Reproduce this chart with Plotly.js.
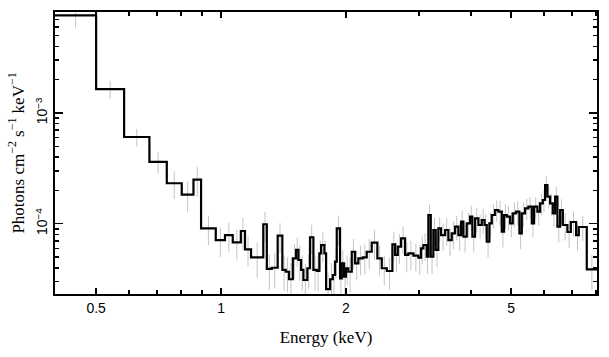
<!DOCTYPE html>
<html>
<head>
<meta charset="utf-8">
<script src="https://cdn.plot.ly/plotly-3.0.1.min.js"></script>
<style>html,body{margin:0;padding:0;background:#fff;}#chart{width:609px;height:357px;}</style>
</head>
<body>
<div id="chart"></div>
<script>
// Bin edges (keV) of the step spectrum
const binEdges = [0.398, 0.5, 0.584, 0.672, 0.740, 0.804, 0.858, 0.895, 0.971, 1.022,
  1.067, 1.116, 1.142, 1.181, 1.264, 1.289, 1.325, 1.369, 1.405, 1.432,
  1.458, 1.489, 1.516, 1.536, 1.559, 1.579, 1.614, 1.638, 1.669, 1.701,
  1.725, 1.742, 1.774, 1.791, 1.831, 1.859, 1.883, 1.900, 1.935, 1.953,
  1.978, 2.000, 2.026, 2.065, 2.103, 2.142, 2.195, 2.244, 2.307, 2.380,
  2.439, 2.508, 2.587, 2.626, 2.666, 2.715, 2.776, 2.827, 2.907, 2.988,
  3.033, 3.072, 3.130, 3.158, 3.201, 3.247, 3.290, 3.338, 3.389, 3.465,
  3.529, 3.596, 3.663, 3.731, 3.787, 3.836, 3.908, 3.981, 4.032, 4.093,
  4.169, 4.248, 4.314, 4.367, 4.431, 4.490, 4.573, 4.657, 4.746, 4.807,
  4.880, 4.970, 5.045, 5.138, 5.234, 5.304, 5.401, 5.502, 5.607, 5.678,
  5.783, 5.871, 5.960, 6.036, 6.114, 6.206, 6.300, 6.380, 6.463, 6.561,
  6.660, 6.832, 6.962, 7.169, 7.277, 7.606, 8.05];

// Flux per bin (photons cm^-2 s^-1 keV^-1)
const flux = [7.60e-3, 1.64e-3, 6.07e-4, 3.61e-4, 2.32e-4, 1.83e-4, 2.50e-4, 9.09e-5, 7.12e-5, 7.90e-5,
  6.79e-5, 8.59e-5, 5.87e-5, 4.97e-5, 9.88e-5, 3.90e-5, 4.00e-5, 7.79e-5, 3.82e-5, 3.68e-5,
  3.15e-5, 4.87e-5, 5.79e-5, 4.70e-5, 3.82e-5, 3.10e-5, 3.96e-5, 7.54e-5, 3.82e-5, 3.74e-5,
  5.40e-5, 6.42e-5, 5.40e-5, 2.56e-5, 3.15e-5, 3.44e-5, 4.54e-5, 9.09e-5, 3.21e-5, 4.39e-5,
  3.32e-5, 3.96e-5, 3.68e-5, 5.58e-5, 4.39e-5, 4.87e-5, 4.97e-5, 5.58e-5, 6.74e-5, 4.87e-5,
  3.96e-5, 3.74e-5, 6.52e-5, 5.22e-5, 6.20e-5, 7.38e-5, 5.22e-5, 5.40e-5, 5.14e-5, 4.93e-5,
  5.99e-5, 6.42e-5, 5.03e-5, 1.198e-4, 5.03e-5, 8.77e-5, 5.79e-5, 9.09e-5, 7.90e-5, 8.77e-5,
  7.12e-5, 8.19e-5, 9.39e-5, 7.90e-5, 1.043e-4, 7.63e-5, 1.008e-4, 1.157e-4, 7.63e-5, 1.119e-4,
  9.73e-5, 1.080e-4, 9.73e-5, 6.88e-5, 1.008e-4, 1.198e-4, 1.329e-4, 1.284e-4, 8.47e-5, 1.198e-4,
  1.157e-4, 1.008e-4, 1.241e-4, 1.284e-4, 8.19e-5, 1.241e-4, 1.377e-4, 1.424e-4, 1.008e-4, 1.424e-4,
  1.284e-4, 1.529e-4, 1.637e-4, 2.237e-4, 1.754e-4, 1.529e-4, 1.241e-4, 1.754e-4, 9.39e-5, 1.329e-4,
  9.73e-5, 8.41e-5, 1.036e-4, 7.90e-5, 9.34e-5, 3.87e-5];

// Relative 1-sigma error per bin
const relErr = [0.22, 0.18, 0.18, 0.22, 0.28, 0.30, 0.30, 0.30, 0.30, 0.30,
  0.30, 0.32, 0.30, 0.35, 0.30, 0.35, 0.35, 0.30, 0.35, 0.35,
  0.40, 0.35, 0.30, 0.35, 0.35, 0.40, 0.35, 0.30, 0.35, 0.35,
  0.30, 0.30, 0.30, 0.40, 0.40, 0.35, 0.30, 0.30, 0.35, 0.30,
  0.35, 0.30, 0.35, 0.30, 0.30, 0.30, 0.30, 0.30, 0.30, 0.30,
  0.30, 0.32, 0.30, 0.30, 0.30, 0.28, 0.30, 0.30, 0.28, 0.30,
  0.28, 0.28, 0.30, 0.25, 0.30, 0.28, 0.30, 0.25, 0.28, 0.28,
  0.28, 0.28, 0.25, 0.28, 0.25, 0.28, 0.25, 0.25, 0.28, 0.25,
  0.25, 0.25, 0.25, 0.28, 0.25, 0.25, 0.22, 0.25, 0.28, 0.25,
  0.25, 0.25, 0.25, 0.25, 0.28, 0.25, 0.22, 0.22, 0.25, 0.22,
  0.25, 0.22, 0.22, 0.20, 0.22, 0.22, 0.25, 0.22, 0.28, 0.25,
  0.28, 0.28, 0.25, 0.28, 0.25, 0.35];

const xTickVals = [0.5, 1, 2, 5];
const xTickText = ['0.5', '1', '2', '5'];
const xMinorVals = [0.4, 0.6, 0.7, 0.8, 0.9, 3, 4, 6, 7, 8];
const yTickVals = [1e-4, 1e-3];
const yTickText = ['10<sup>\u22124</sup>', '10<sup>\u22123</sup>'];
const yMinorVals = [3e-5, 4e-5, 5e-5, 6e-5, 7e-5, 8e-5, 9e-5,
  2e-4, 3e-4, 4e-4, 5e-4, 6e-4, 7e-4, 8e-4, 9e-4,
  2e-3, 3e-3, 4e-3, 5e-3, 6e-3, 7e-3, 8e-3];

// step line
const stepX = binEdges.slice();
const stepY = flux.concat([flux[flux.length - 1]]);

// error bars at bin centres
const centers = flux.map((v, i) => Math.sqrt(binEdges[i] * binEdges[i + 1]));
const errs = flux.map((v, i) => v * relErr[i]);

const traces = [
  {
    x: centers, y: flux, type: 'scatter', mode: 'markers',
    marker: {size: 1, color: 'rgba(0,0,0,0)'},
    error_y: {type: 'data', array: errs, visible: true, color: '#c4c4c4', thickness: 1, width: 0},
    hoverinfo: 'skip', showlegend: false
  },
  {
    x: stepX, y: stepY, type: 'scatter', mode: 'lines',
    line: {shape: 'hv', color: '#000', width: 2.2},
    showlegend: false
  }
];

const axisCommon = {
  showgrid: false, zeroline: false, showline: true, linecolor: '#000', linewidth: 2,
  mirror: 'ticks', ticks: 'inside', tickcolor: '#000', tickwidth: 1.5
};

const layout = {
  width: 609, height: 357,
  margin: {l: 55, r: 12, t: 12, b: 63},
  paper_bgcolor: '#fff', plot_bgcolor: '#fff',
  showlegend: false,
  xaxis: Object.assign({}, axisCommon, {
    type: 'log',
    range: [Math.log10(0.398), Math.log10(8.05)],
    tickmode: 'array', tickvals: xTickVals, ticktext: xTickText, ticklen: 6,
    tickfont: {family: 'Liberation Sans, Arial, sans-serif', size: 14, color: '#000'},
    minor: {tickmode: 'array', tickvals: xMinorVals, ticks: 'inside', ticklen: 4, tickcolor: '#000', tickwidth: 1.5, showgrid: false},
    title: {text: 'Energy (keV)', font: {family: 'Liberation Serif, Times New Roman, serif', size: 17, color: '#000'}, standoff: 16},
    automargin: false
  }),
  yaxis: Object.assign({}, axisCommon, {
    type: 'log',
    range: [-4.635, -2.088],
    tickmode: 'array', tickvals: yTickVals, ticktext: yTickText, ticklen: 8,
    tickangle: -90,
    tickfont: {family: 'Liberation Sans, Arial, sans-serif', size: 14, color: '#000'},
    minor: {tickmode: 'array', tickvals: yMinorVals, ticks: 'inside', ticklen: 4, tickcolor: '#000', tickwidth: 1.5, showgrid: false},
    title: {text: 'Photons cm<sup>\u22122</sup> s<sup>\u22121</sup> keV<sup>\u22121</sup>', font: {family: 'Liberation Serif, Times New Roman, serif', size: 17, color: '#000'}, standoff: 4},
    automargin: false
  })
};

Plotly.newPlot('chart', traces, layout, {staticPlot: true, displayModeBar: false});
</script>
</body>
</html>
